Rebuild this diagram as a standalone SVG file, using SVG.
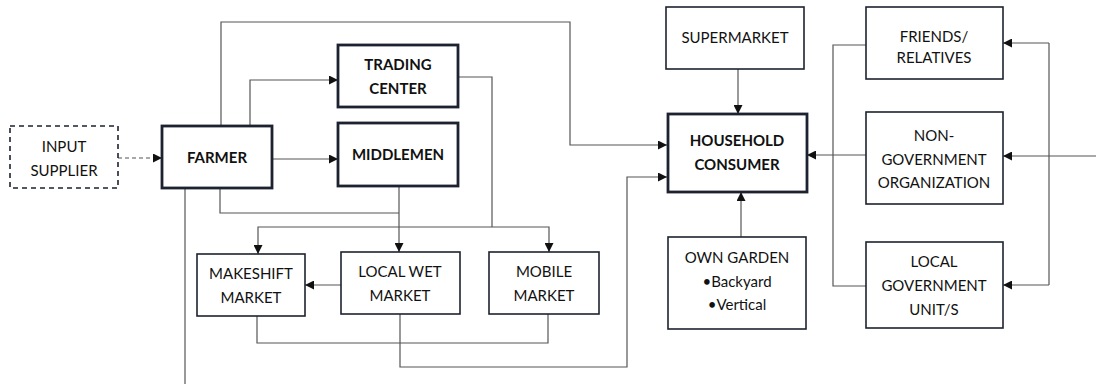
<svg xmlns="http://www.w3.org/2000/svg" width="1096" height="384" viewBox="0 0 1096 384">
<defs>
<marker id="ah" viewBox="0 0 10 10" refX="10" refY="5" markerWidth="9" markerHeight="9" markerUnits="userSpaceOnUse" orient="auto">
<path d="M0,0 L10,5 L0,10 z" fill="#111"/>
</marker>
<style>
.box{fill:#fff;stroke:#1c2230;stroke-width:1.6}
.thick{fill:#fff;stroke:#1c2230;stroke-width:2.8}
.dash{fill:#fff;stroke:#1c2230;stroke-width:1.6;stroke-dasharray:5,4}
.c{fill:none;stroke:#555;stroke-width:1.2}
.a{marker-end:url(#ah)}
text{font-family:Lato,"Liberation Sans",sans-serif;font-size:15px;fill:#111;text-anchor:middle}
.b{font-weight:bold}
</style>
</defs>
<rect width="1096" height="384" fill="#fff"/>
<g id="connectors">
<path class="c a" d="M118,158 H162" stroke-dasharray="4,3"/>
<path class="c a" d="M221,126 V22 H570 V145 H667"/>
<path class="c a" d="M250,126 V80 H338"/>
<path class="c a" d="M272,159 H338"/>
<path class="c" d="M220,188 V213 H399"/>
<path class="c a" d="M399,186 V252"/>
<path class="c" d="M458,77 H492 V227"/>
<path class="c a" d="M399,227 H258 V254"/>
<path class="c a" d="M399,227 H549 V252"/>
<path class="c a" d="M341,285 H305"/>
<path class="c" d="M257,316 V343 H548 V314"/>
<path class="c a" d="M400,314 V367 H627 V177 H667"/>
<path class="c" d="M185,188 V384"/>
<path class="c a" d="M738,69 V114"/>
<path class="c a" d="M741,237 V192"/>
<path class="c a" d="M866,155 H807"/>
<path class="c" d="M866,45 H833 V286 H866"/>
<path class="c a" d="M1096,156 H1003"/>
<path class="c" d="M1049,43 V285"/>
<path class="c a" d="M1049,43 H1003"/>
<path class="c a" d="M1049,285 H1003"/>
</g>
<g id="input-supplier"><rect class="dash" x="10" y="126" width="108" height="62"/><text x="64" y="152">INPUT</text><text x="64" y="176">SUPPLIER</text></g>
<g id="farmer"><rect class="thick" x="162" y="126" width="110" height="62"/><text class="b" x="217" y="163">FARMER</text></g>
<g id="trading-center"><rect class="thick" x="338" y="45" width="120" height="62"/><text class="b" x="398" y="70">TRADING</text><text class="b" x="398" y="94">CENTER</text></g>
<g id="middlemen"><rect class="thick" x="338" y="123" width="120" height="63"/><text class="b" x="398" y="160">MIDDLEMEN</text></g>
<g id="makeshift-market"><rect class="box" x="197" y="254" width="108" height="62"/><text x="251" y="279">MAKESHIFT</text><text x="251" y="303">MARKET</text></g>
<g id="local-wet-market"><rect class="box" x="341" y="252" width="119" height="62"/><text x="400" y="277">LOCAL WET</text><text x="400" y="301">MARKET</text></g>
<g id="mobile-market"><rect class="box" x="489" y="252" width="110" height="62"/><text x="544" y="277">MOBILE</text><text x="544" y="301">MARKET</text></g>
<g id="supermarket"><rect class="box" x="666" y="7" width="138" height="62"/><text x="735" y="43">SUPERMARKET</text></g>
<g id="household-consumer"><rect class="thick" x="668" y="114" width="139" height="78"/><text class="b" x="737" y="146">HOUSEHOLD</text><text class="b" x="737" y="170">CONSUMER</text></g>
<g id="own-garden"><rect class="box" x="668" y="237" width="138" height="92"/><text x="737" y="263">OWN GARDEN</text><text x="737" y="287">•Backyard</text><text x="737" y="310">•Vertical</text></g>
<g id="friends-relatives"><rect class="box" x="866" y="7" width="137" height="72"/><text x="934" y="42">FRIENDS/</text><text x="934" y="63">RELATIVES</text></g>
<g id="ngo"><rect class="box" x="866" y="112" width="137" height="92"/><text x="934" y="141">NON-</text><text x="934" y="165">GOVERNMENT</text><text x="934" y="188">ORGANIZATION</text></g>
<g id="lgu"><rect class="box" x="866" y="242" width="137" height="86"/><text x="934" y="267">LOCAL</text><text x="934" y="291">GOVERNMENT</text><text x="934" y="315">UNIT/S</text></g>
</svg>
